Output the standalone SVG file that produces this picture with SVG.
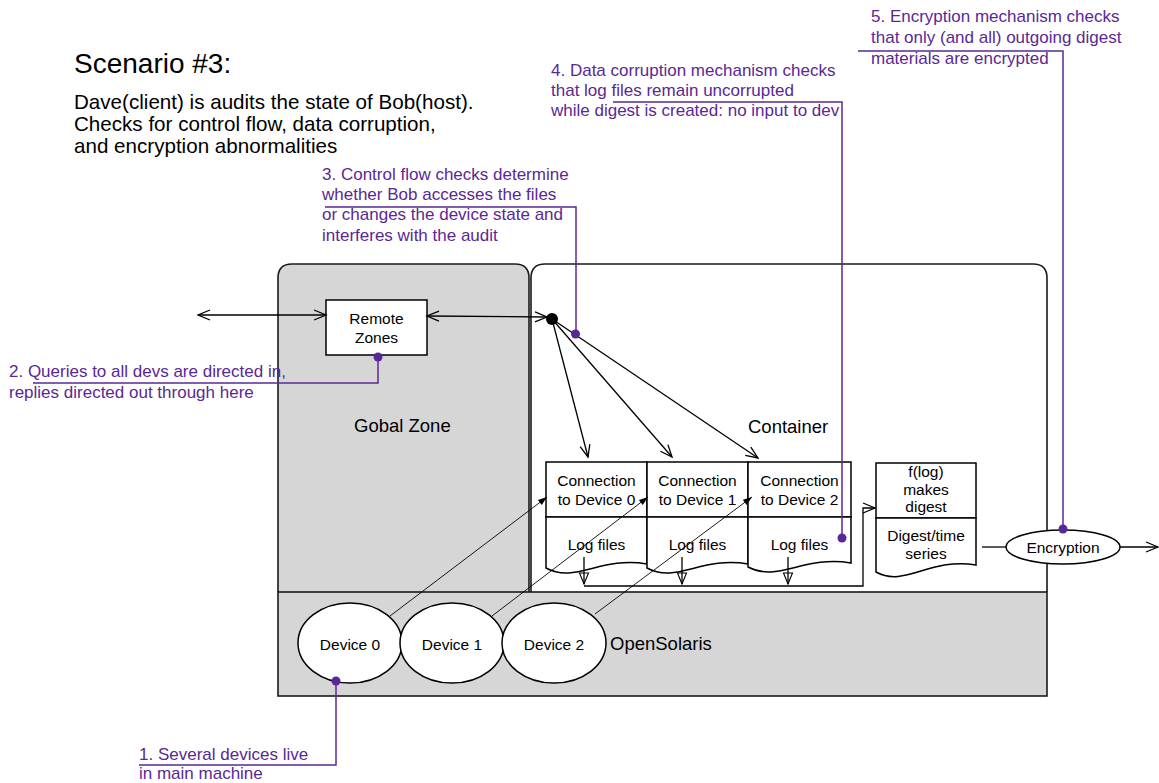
<svg xmlns="http://www.w3.org/2000/svg" width="1159" height="783" viewBox="0 0 1159 783">
  <style>
    text { font-family: "Liberation Sans", Arial, Helvetica, sans-serif; fill: #000; }
    .box { fill: #fff; stroke: #000; stroke-width: 1.5; }
    .zone { fill: #d6d6d6; stroke: #1a1a1a; stroke-width: 1.6; }
    .lbl { font-size: 15.5px; text-anchor: middle; }
    .region { font-size: 18.5px; }
    .body { font-size: 20.6px; }
    .title { font-size: 28px; }
    .conn { fill: none; stroke: #000; stroke-width: 1.3; }
    .thin { fill: none; stroke: #000; stroke-width: 0.9; }
    .note { font-size: 17px; fill: #5a2896; }
    .lead { fill: none; stroke: #5a2896; stroke-width: 1.5; }
    .pin { fill: #5a2896; }
  </style>
  <defs>
    <marker id="chev" viewBox="-14 -7 16 14" refX="0" refY="0" markerWidth="16" markerHeight="14" markerUnits="userSpaceOnUse" orient="auto-start-reverse">
      <path d="M-12,-5 L0,0 L-12,5" fill="none" stroke="#000" stroke-width="1.3"/>
    </marker>
    <marker id="vee" viewBox="-13 -6 15 12" refX="0" refY="0" markerWidth="15" markerHeight="12" markerUnits="userSpaceOnUse" orient="auto">
      <path d="M-11,-4.5 L0,0 L-11,4.5 Z" fill="none" stroke="#000" stroke-width="1.1"/>
    </marker>
    <marker id="tri" viewBox="-10 -5 12 10" refX="0" refY="0" markerWidth="12" markerHeight="10" markerUnits="userSpaceOnUse" orient="auto">
      <path d="M-9,-3.2 L0,0 L-9,3.2 Z" fill="#000"/>
    </marker>
  </defs>

  <!-- heading -->
  <g id="heading">
    <text class="title" x="74" y="73">Scenario #3:</text>
    <text class="body" x="74" y="109">Dave(client) is audits the state of Bob(host).</text>
    <text class="body" x="74" y="131">Checks for control flow, data corruption,</text>
    <text class="body" x="74" y="153">and encryption abnormalities</text>
  </g>

  <!-- zones above the host layer -->
  <g id="global-zone">
    <path class="zone" d="M278,592 V278 Q278,264 292,264 H515 Q529,264 529,278 V592"/>
    <text class="region" x="354" y="432">Gobal Zone</text>
  </g>

  <g id="container">
    <path d="M531,592 V278 Q531,264 545,264 H1033 Q1047,264 1047,278 V592" fill="#fff" stroke="#1a1a1a" stroke-width="1.6"/>
    <text class="region" x="748" y="433">Container</text>
  </g>

  <!-- host machine layer -->
  <g id="opensolaris">
    <rect class="zone" x="278" y="592" width="769" height="104" stroke-width="2"/>
    <text class="region" x="610" y="650">OpenSolaris</text>
  </g>

  <g id="remote-zones">
    <rect class="box" x="326" y="300" width="101" height="55"/>
    <text class="lbl" x="376.5" y="324">Remote</text>
    <text class="lbl" x="376.5" y="343">Zones</text>
  </g>

  <!-- per-device connections and their logs -->
  <g id="conn-0">
    <rect class="box" x="546" y="462" width="101" height="55"/>
    <text class="lbl" x="596.5" y="486">Connection</text>
    <text class="lbl" x="596.5" y="505">to Device 0</text>
  </g>
  <g id="log-0">
    <path class="box" d="M546,517 H647 V564 C600.5,556 575.3,584 546,568 Z"/>
    <text class="lbl" x="596.5" y="550">Log files</text>
  </g>
  <g id="conn-1">
    <rect class="box" x="647" y="462" width="101" height="55"/>
    <text class="lbl" x="697.5" y="486">Connection</text>
    <text class="lbl" x="697.5" y="505">to Device 1</text>
  </g>
  <g id="log-1">
    <path class="box" d="M647,517 H748 V564 C701.5,556 676.3,584 647,568 Z"/>
    <text class="lbl" x="697.5" y="550">Log files</text>
  </g>
  <g id="conn-2">
    <rect class="box" x="748" y="462" width="103" height="55"/>
    <text class="lbl" x="799.5" y="486">Connection</text>
    <text class="lbl" x="799.5" y="505">to Device 2</text>
  </g>
  <g id="log-2">
    <path class="box" d="M748,517 H851 V563 C803.6,555 777.9,583 748,567 Z"/>
    <text class="lbl" x="799.5" y="550">Log files</text>
  </g>

  <g id="digest-fn">
    <rect class="box" x="876" y="463" width="100" height="55"/>
    <text class="lbl" x="926" y="477">f(log)</text>
    <text class="lbl" x="926" y="495">makes</text>
    <text class="lbl" x="926" y="512">digest</text>
  </g>
  <g id="digest-series">
    <path class="box" d="M876,518 H976 V565 C930,557 905,588 876,572 Z"/>
    <text class="lbl" x="926" y="541">Digest/time</text>
    <text class="lbl" x="926" y="559">series</text>
  </g>

  <g id="encryption">
    <ellipse class="box" cx="1063" cy="547" rx="57" ry="17"/>
    <text class="lbl" x="1063" y="553">Encryption</text>
  </g>

  <g id="device-0">
    <ellipse class="box" cx="350" cy="643" rx="52" ry="40"/>
    <text class="lbl" x="350" y="650">Device 0</text>
  </g>
  <g id="device-1">
    <ellipse class="box" cx="452" cy="643" rx="52" ry="40"/>
    <text class="lbl" x="452" y="650">Device 1</text>
  </g>
  <g id="device-2">
    <ellipse class="box" cx="554" cy="643" rx="52" ry="40"/>
    <text class="lbl" x="554" y="650">Device 2</text>
  </g>

  <!-- connectors -->
  <g id="connectors">
    <line class="conn" x1="198" y1="315" x2="326" y2="315" marker-start="url(#chev)" marker-end="url(#chev)"/>
    <line class="conn" x1="427" y1="316" x2="547" y2="317" marker-start="url(#chev)" marker-end="url(#chev)"/>
    <circle cx="552" cy="319" r="6" fill="#000"/>
    <line class="conn" x1="552" y1="319" x2="588" y2="457" marker-end="url(#chev)"/>
    <line class="conn" x1="552" y1="319" x2="672" y2="457" marker-end="url(#chev)"/>
    <line class="conn" x1="552" y1="319" x2="758" y2="458" marker-end="url(#chev)"/>

    <line class="thin" x1="390" y1="616" x2="547" y2="497" marker-end="url(#tri)"/>
    <line class="thin" x1="492" y1="616" x2="648" y2="497" marker-end="url(#tri)"/>
    <line class="thin" x1="595" y1="614" x2="752" y2="497" marker-end="url(#tri)"/>

    <line class="conn" x1="584" y1="557" x2="584" y2="584" marker-end="url(#vee)"/>
    <line class="conn" x1="682" y1="557" x2="682" y2="584" marker-end="url(#vee)"/>
    <line class="conn" x1="788" y1="557" x2="788" y2="584" marker-end="url(#vee)"/>
    <path class="conn" d="M584,586 H863 V508 H875" marker-end="url(#chev)"/>

    <line class="conn" x1="982" y1="547" x2="1006" y2="547"/>
    <line class="conn" x1="1120" y1="547" x2="1158" y2="547" marker-end="url(#chev)"/>
  </g>

  <!-- annotations -->
  <g id="note-1">
    <text class="note" x="139" y="760">1. Several devices live</text>
    <text class="note" x="139" y="779">in main machine</text>
    <polyline class="lead" points="139,765 336,765 336,681"/>
    <circle class="pin" cx="336" cy="681" r="4.5"/>
  </g>
  <g id="note-2">
    <text class="note" x="9" y="377">2. Queries to all devs are directed in,</text>
    <text class="note" x="9" y="398">replies directed out through here</text>
    <polyline class="lead" points="33,383 378,383 378,357"/>
    <circle class="pin" cx="378" cy="357" r="4.5"/>
  </g>
  <g id="note-3">
    <text class="note" x="322" y="180">3. Control flow checks determine</text>
    <text class="note" x="322" y="200">whether Bob accesses the files</text>
    <text class="note" x="322" y="220">or changes the device state and</text>
    <text class="note" x="322" y="241">interferes with the audit</text>
    <polyline class="lead" points="325,207 576,207 576,334"/>
    <circle class="pin" cx="575.5" cy="334" r="4.5"/>
  </g>
  <g id="note-4">
    <text class="note" x="551" y="76">4. Data corruption mechanism checks</text>
    <text class="note" x="551" y="96">that log files remain uncorrupted</text>
    <text class="note" x="551" y="116">while digest is created: no input to dev</text>
    <polyline class="lead" points="613,102 842,102 842,538"/>
    <circle class="pin" cx="842" cy="538" r="4.5"/>
  </g>
  <g id="note-5">
    <text class="note" x="871" y="22">5. Encryption mechanism checks</text>
    <text class="note" x="871" y="43">that only (and all) outgoing digest</text>
    <text class="note" x="871" y="64">materials are encrypted</text>
    <polyline class="lead" points="858,51 1063,51 1063,529"/>
    <circle class="pin" cx="1063" cy="529" r="4.5"/>
  </g>
</svg>
